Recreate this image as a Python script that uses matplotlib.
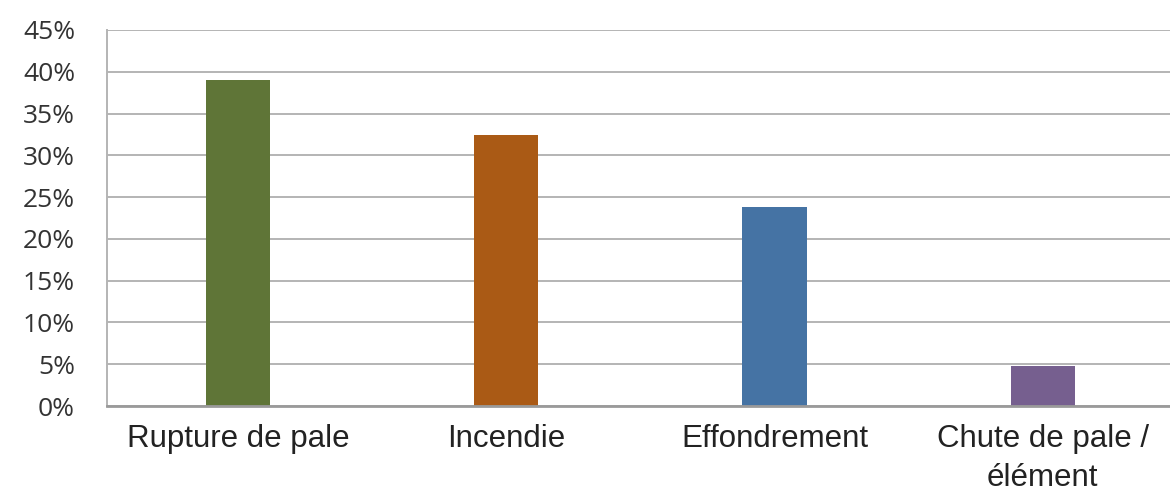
import matplotlib
matplotlib.use("Agg")
import matplotlib.pyplot as plt
from matplotlib.ticker import FuncFormatter

categories = ["Rupture de pale", "Incendie", "Effondrement", "Chute de pale /\nélément"]
values = [39.0, 32.4, 23.8, 4.8]
colors = ["#5f7537", "#aa5a15", "#4573a4", "#765f8f"]
y_ticks = [0, 5, 10, 15, 20, 25, 30, 35, 40, 45]

fig = plt.figure(figsize=(11.7, 4.91), dpi=100)
ax = fig.add_axes([0.0915, 0.173, 0.9085, 0.766])

ax.bar(range(len(categories)), values, width=0.24, color=colors, zorder=3)

ax.set_xlim(-0.488, 3.474)
ax.set_ylim(0, 45)
ax.set_yticks(y_ticks)
ax.yaxis.set_major_formatter(FuncFormatter(lambda v, _: f"{v:.0f}%"))
ax.set_xticks(range(len(categories)))
ax.set_xticklabels(categories, fontsize=22.5, family="Liberation Sans",
                   color="#222222", linespacing=1.4)

for lbl in ax.get_yticklabels():
    lbl.set_fontsize(19)
    lbl.set_family("Open Sans")
    lbl.set_color("#333333")

ax.tick_params(axis="y", length=0, pad=23)
ax.tick_params(axis="x", length=0, pad=13)

ax.grid(axis="y", color="#b4b4b4", linewidth=1.4, zorder=0)
for side in ("top", "right"):
    ax.spines[side].set_visible(False)
ax.spines["left"].set_color("#b4b4b4")
ax.spines["left"].set_linewidth(1.4)
ax.spines["bottom"].set_color("#9a9a9a")
ax.spines["bottom"].set_linewidth(2)
ax.spines["bottom"].set_zorder(4)

fig.savefig("out.png", dpi=100)
